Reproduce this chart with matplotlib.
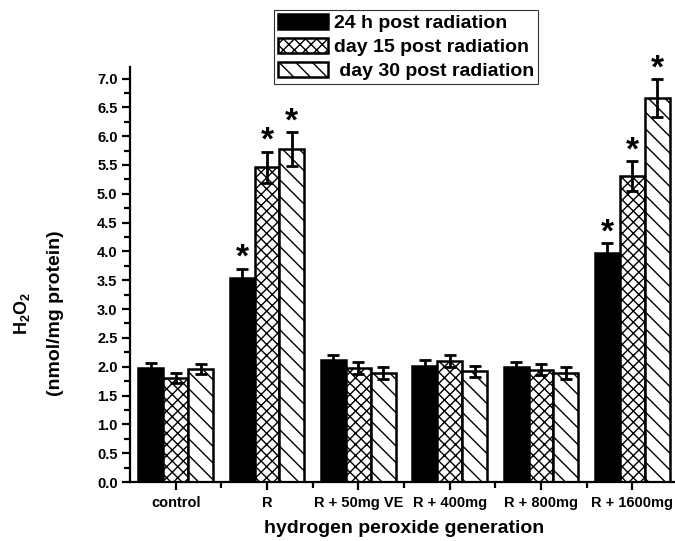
import matplotlib
matplotlib.use("Agg")
import matplotlib.pyplot as plt
import numpy as np

plt.rcParams['font.family'] = ['Liberation Sans', 'DejaVu Sans']
plt.rcParams['font.weight'] = 'bold'
plt.rcParams['mathtext.fontset'] = 'custom'
plt.rcParams['mathtext.rm'] = 'Liberation Sans:bold'
plt.rcParams['mathtext.bf'] = 'Liberation Sans:bold'
plt.rcParams['mathtext.default'] = 'bf'
plt.rcParams['hatch.linewidth'] = 1.0

categories = ["control", "R", "R + 50mg VE", "R + 400mg", "R + 800mg", "R + 1600mg"]
series_names = ["24 h post radiation", "day 15 post radiation", " day 30 post radiation"]
h24 = [1.98, 3.54, 2.12, 2.01, 1.99, 3.97]
d15 = [1.80, 5.46, 1.98, 2.10, 1.95, 5.31]
d30 = [1.96, 5.78, 1.89, 1.92, 1.89, 6.66]
h24_err = [0.09, 0.16, 0.09, 0.10, 0.09, 0.17]
d15_err = [0.09, 0.27, 0.10, 0.11, 0.10, 0.26]
d30_err = [0.09, 0.29, 0.10, 0.10, 0.10, 0.33]
# significance markers (1 = star)
h24_sig = [0, 1, 0, 0, 0, 1]
d15_sig = [0, 1, 0, 0, 0, 1]
d30_sig = [0, 1, 0, 0, 0, 1]

fig = plt.figure(figsize=(6.75, 5.41), dpi=100)
ax = fig.add_axes([130/675, 59/541, 548/675, 415/541])

x = np.arange(len(categories))
w = 0.272
series = [(h24, h24_err, h24_sig, 'black', None),
          (d15, d15_err, d15_sig, 'white', 'xxx'),
          (d30, d30_err, d30_sig, 'white', '\\\\')]
handles = []
for i, (vals, errs, sig, fc, hatch) in enumerate(series):
    xs = x + (i - 1) * w
    b = ax.bar(xs, vals, width=w, color=fc, edgecolor='black', linewidth=1.8,
               hatch=hatch, zorder=2)
    handles.append(b)
    ax.errorbar(xs, vals, yerr=errs, fmt='none', ecolor='black', elinewidth=2,
                capsize=4, capthick=2, zorder=3)
    for xi, v, e, s in zip(xs, vals, errs, sig):
        if s:
            ax.text(xi, v + e + 0.18, '*', ha='center', va='center', fontsize=24,
                    fontweight='bold', clip_on=False, zorder=4)

ax.set_xlim(-0.5, 5.5)
ax.set_ylim(0, 7.2)
ax.set_xticks(x)
ax.set_xticklabels(categories, fontsize=10.5, fontweight='bold')
ax.set_xticks(x[:-1] + 0.5, minor=True)
ax.set_yticks(np.arange(0, 7.01, 0.5))
ax.set_yticklabels([f"{v:.1f}" for v in np.arange(0, 7.01, 0.5)], fontsize=10.5, fontweight='bold')
ax.set_yticks(np.arange(0.25, 7.2, 0.5), minor=True)

for s in ['top', 'right']:
    ax.spines[s].set_visible(False)
for s in ['left', 'bottom']:
    ax.spines[s].set_linewidth(1.6)
ax.tick_params(axis='both', which='major', direction='out', length=6, width=1.6, pad=3)
ax.tick_params(axis='both', which='minor', direction='out', length=4, width=1.6)
ax.tick_params(axis='x', which='major', pad=4)

fig.text(404/675, 1 - 533/541, "hydrogen peroxide generation", ha='center', va='baseline',
         fontsize=14, fontweight='bold')
fig.text(0.033, 1 - 313/541, "H$_2$O$_2$", rotation=90, ha='center', va='center',
         fontsize=13, fontweight='bold')
fig.text(0.082, 1 - 313/541, "(nmol/mg protein)", rotation=90, ha='center', va='center',
         fontsize=14, fontweight='bold')

leg = fig.legend(handles, series_names, loc='upper left', bbox_to_anchor=(274/675, 1 - 10/541),
                 borderaxespad=0, frameon=True, fancybox=False, edgecolor='black',
                 prop={'weight': 'bold', 'size': 14}, handlelength=2.6, handleheight=0.85,
                 handletextpad=0.3, labelspacing=0.28, borderpad=0.2)
leg.get_frame().set_linewidth(0.8)

fig.savefig("out.png", dpi=100)
